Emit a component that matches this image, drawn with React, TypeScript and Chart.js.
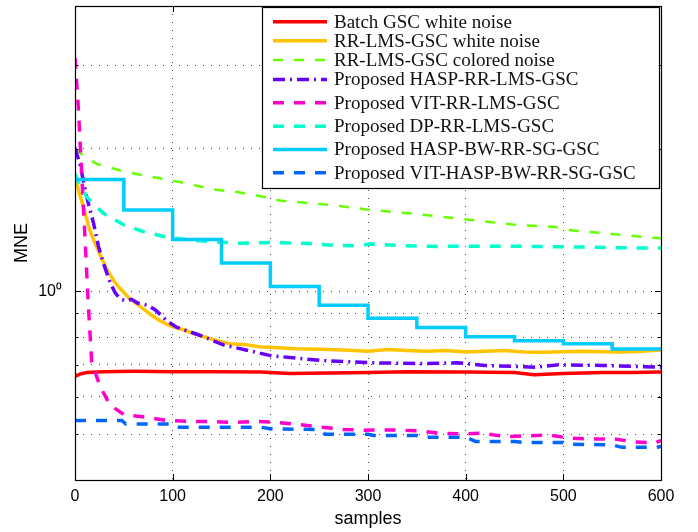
import React, { useEffect, useRef } from 'react';
import { Chart, registerables } from 'chart.js';

Chart.register(...registerables);

// ---------- data ----------
const seriesNames = [
  'Batch GSC white noise',
  'RR-LMS-GSC white noise',
  'RR-LMS-GSC colored noise',
  'Proposed HASP-RR-LMS-GSC',
  'Proposed VIT-RR-LMS-GSC',
  'Proposed DP-RR-LMS-GSC',
  'Proposed HASP-BW-RR-SG-GSC',
  'Proposed VIT-HASP-BW-RR-SG-GSC',
];

const batchX = [0, 5, 12, 30, 60, 100, 150, 190, 220, 260, 300, 340, 400, 450, 470, 500, 540, 570, 600];
const batchY = [0.662, 0.669, 0.674, 0.677, 0.678, 0.677, 0.677, 0.676, 0.671, 0.673, 0.674, 0.677, 0.676, 0.674, 0.667, 0.671, 0.674, 0.674, 0.676];

const rrWhiteX = [0, 4, 8.6, 15, 20, 26, 32, 40, 46, 56, 65, 77, 87, 98, 108, 118, 139, 159, 175, 190, 200, 225, 250, 275, 300, 320, 340, 360, 380, 400, 420, 440, 460, 480, 500, 520, 540, 560, 580, 600];
const rrWhiteY = [1.742, 1.62, 1.508, 1.35, 1.27, 1.19, 1.12, 1.05, 1.015, 0.965, 0.935, 0.895, 0.867, 0.845, 0.834, 0.82, 0.794, 0.775, 0.772, 0.763, 0.762, 0.757, 0.755, 0.752, 0.748, 0.754, 0.75, 0.748, 0.75, 0.745, 0.748, 0.75, 0.745, 0.744, 0.746, 0.748, 0.746, 0.745, 0.748, 0.752];

const rrColoredX = [0, 8.5, 22, 46, 70, 100, 108, 142, 166, 190, 211, 265, 298, 342, 406, 452, 491, 510, 550, 584, 600];
const rrColoredY = [2.0, 1.935, 1.858, 1.8, 1.757, 1.712, 1.7, 1.64, 1.62, 1.588, 1.553, 1.52, 1.489, 1.461, 1.414, 1.381, 1.368, 1.344, 1.322, 1.301, 1.295];

const haspX = [0, 5, 12, 19, 24, 29, 36, 41, 46, 52, 58, 64, 74, 82, 94, 104, 127, 152, 175, 188, 200, 251, 303, 354, 391, 420, 471, 495, 539, 600];
const haspY = [2.01, 1.858, 1.582, 1.392, 1.244, 1.148, 1.043, 0.994, 0.965, 0.955, 0.962, 0.945, 0.935, 0.915, 0.867, 0.84, 0.809, 0.771, 0.752, 0.742, 0.732, 0.715, 0.707, 0.704, 0.707, 0.698, 0.692, 0.7, 0.698, 0.692];

const vitX = [0, 3.4, 6.9, 10.3, 13.7, 17.1, 25.7, 36, 50, 74, 94, 118, 142, 163, 187, 207, 231, 252, 276, 296, 327, 351, 373, 396, 418, 440, 462, 485, 507, 529, 551, 574, 594, 600];
const vitY = [3.11, 2.44, 1.77, 1.285, 0.932, 0.709, 0.63, 0.575, 0.55, 0.542, 0.534, 0.5315, 0.5315, 0.529, 0.5315, 0.529, 0.523, 0.517, 0.511, 0.5095, 0.51, 0.508, 0.502, 0.5004, 0.502, 0.494, 0.4955, 0.498, 0.49, 0.488, 0.4885, 0.481, 0.4786, 0.485];

const dpX = [0, 4, 12, 29, 50, 70, 91, 115, 139, 166, 200, 240, 265, 285, 303, 330, 372, 420, 470, 520, 560, 600];
const dpY = [1.77, 1.69, 1.582, 1.461, 1.381, 1.337, 1.305, 1.285, 1.274, 1.264, 1.268, 1.262, 1.25, 1.248, 1.258, 1.25, 1.244, 1.246, 1.244, 1.24, 1.236, 1.234];

const bwX = [0, 50, 100, 150, 200, 250, 300, 350, 400, 450, 500, 550, 600];
const bwY = [1.721, 1.484, 1.287, 1.148, 1.024, 0.935, 0.878, 0.839, 0.802, 0.787, 0.775, 0.756, 0.756];

const vitBwX = [0, 48, 52, 100, 105, 190, 200, 250, 256, 300, 306, 350, 355, 400, 410, 450, 460, 500, 503, 550, 560, 595, 600];
const vitBwY = [0.534, 0.534, 0.525, 0.525, 0.517, 0.517, 0.513, 0.511, 0.4995, 0.4995, 0.4966, 0.4966, 0.4926, 0.4926, 0.4824, 0.482, 0.48, 0.48, 0.476, 0.4745, 0.4687, 0.4687, 0.471];

const xTickValues = [0, 100, 200, 300, 400, 500, 600];
const yTickValues = [0.4, 0.5, 0.6, 0.7, 0.8, 0.9, 1, 2, 3, 4];
const yTickLabels: Record<string, string> = { '1': '10\u2070' };

// ---------- styles ----------
const seriesStyles = [
  { color: '#FF0000', width: 3.5, dash: [] as number[], stepped: false },
  { color: '#FFC400', width: 3.5, dash: [], stepped: false },
  { color: '#66FF00', width: 2.5, dash: [10, 11], stepped: false },
  { color: '#6600FF', width: 3.5, dash: [12, 5, 2, 5], stepped: false },
  { color: '#FF00CC', width: 3.5, dash: [11, 10], stepped: false },
  { color: '#00FFCC', width: 3.5, dash: [11, 10], stepped: false },
  { color: '#00CCFF', width: 3.5, dash: [], stepped: true },
  { color: '#0066FF', width: 3.5, dash: [11, 10], stepped: false },
];

const seriesData: [number[], number[]][] = [
  [batchX, batchY],
  [rrWhiteX, rrWhiteY],
  [rrColoredX, rrColoredY],
  [haspX, haspY],
  [vitX, vitY],
  [dpX, dpY],
  [bwX, bwY],
  [vitBwX, vitBwY],
];

const legendRowOffsets = [14.7, 33.7, 53, 72.5, 95.7, 119.2, 142.5, 165.8];

const framePlugin = {
  id: 'frame',
  afterDatasetsDraw(chart: any) {
    const { ctx, chartArea: a, scales } = chart;
    const xs = scales.x;
    const ys = scales.y;
    ctx.save();
    ctx.setLineDash([]);
    ctx.strokeStyle = '#000';
    ctx.lineWidth = 1;
    ctx.beginPath();
    xs.ticks.forEach((t: any) => {
      const px = Math.round(xs.getPixelForValue(t.value)) + 0.5;
      ctx.moveTo(px, a.bottom);
      ctx.lineTo(px, a.bottom - 6);
      ctx.moveTo(px, a.top);
      ctx.lineTo(px, a.top + 6);
    });
    ys.ticks.forEach((t: any) => {
      const py = Math.round(ys.getPixelForValue(t.value)) + 0.5;
      const len = t.value === 1 ? 6 : 3.5;
      ctx.moveTo(a.left, py);
      ctx.lineTo(a.left + len, py);
      ctx.moveTo(a.right, py);
      ctx.lineTo(a.right - len, py);
    });
    ctx.stroke();
    ctx.lineWidth = 1.2;
    ctx.strokeRect(Math.round(a.left) + 0.5, Math.round(a.top) + 0.5, Math.round(a.right - a.left), Math.round(a.bottom - a.top));
    ctx.restore();
  },
  afterDraw(chart: any) {
    const { ctx, chartArea: a } = chart;
    const left = Math.round(a.right) - 399;
    const top = Math.round(a.top) + 1;
    const right = Math.round(a.right) - 2;
    const bottom = Math.round(a.top) + 182;
    ctx.save();
    ctx.fillStyle = '#fff';
    ctx.fillRect(left, top, right - left, bottom - top);
    ctx.strokeStyle = '#000';
    ctx.lineWidth = 1.2;
    ctx.setLineDash([]);
    ctx.strokeRect(left + 0.5, top + 0.5, right - left, bottom - top);
    chart.data.datasets.forEach((ds: any, i: number) => {
      const y = top + legendRowOffsets[i];
      ctx.save();
      ctx.strokeStyle = ds.borderColor;
      ctx.lineWidth = ds.borderWidth;
      ctx.setLineDash(ds.borderDash || []);
      ctx.beginPath();
      ctx.moveTo(left + 11, y);
      ctx.lineTo(left + 65, y);
      ctx.stroke();
      ctx.restore();
      ctx.fillStyle = '#111';
      ctx.font = '19px "Liberation Serif", "Times New Roman", serif';
      ctx.textBaseline = 'middle';
      ctx.textAlign = 'left';
      ctx.fillText(ds.label, left + 72, y + 1);
    });
    ctx.restore();
  },
};

export default function App() {
  const ref = useRef<HTMLCanvasElement | null>(null);
  useEffect(() => {
    document.body.style.margin = '0';
    if (!ref.current) return;
    const datasets = seriesNames.map((name, i) => {
      const [xs, ys] = seriesData[i];
      const st = seriesStyles[i];
      return {
        label: name,
        data: xs.map((x, k) => ({ x, y: ys[k] })),
        borderColor: st.color,
        backgroundColor: st.color,
        borderWidth: st.width,
        borderDash: st.dash,
        borderCapStyle: 'butt' as const,
        stepped: st.stepped,
        pointRadius: 0,
        fill: false,
        tension: 0,
        order: -i,
      };
    });
    const chart = new Chart(ref.current, {
      type: 'line',
      data: { datasets },
      options: {
        animation: false,
        responsive: false,
        devicePixelRatio: 1,
        layout: { padding: { left: 0, right: 37, top: 6, bottom: 0 } },
        plugins: { legend: { display: false }, tooltip: { enabled: false } },
        scales: {
          x: {
            type: 'linear',
            min: 0,
            max: 600,
            afterBuildTicks: (s: any) => {
              s.ticks = xTickValues.map((v) => ({ value: v }));
            },
            afterFit: (s: any) => {
              s.height = 52;
              s.paddingLeft = 0;
              s.paddingRight = 0;
            },
            ticks: {
              autoSkip: false,
              maxRotation: 0,
              padding: 7,
              color: '#000',
              font: { family: '"Liberation Sans", Arial, sans-serif', size: 16 },
              callback: (v: any) => String(v),
            },
            grid: { color: '#444', lineWidth: 1, drawTicks: false },
            border: { display: false, dash: [1, 7] },
            title: {
              display: true,
              text: 'samples',
              color: '#000',
              font: { family: '"Liberation Sans", Arial, sans-serif', size: 18 },
              padding: { top: 0, bottom: 2 },
            },
          },
          y: {
            type: 'logarithmic',
            min: 0.4,
            max: 4,
            afterBuildTicks: (s: any) => {
              s.ticks = yTickValues.map((v) => ({ value: v, major: v === 1 }));
            },
            afterFit: (s: any) => {
              s.width = 75;
              s.paddingTop = 0;
              s.paddingBottom = 0;
            },
            ticks: {
              autoSkip: false,
              padding: 13,
              color: '#000',
              font: { family: '"Liberation Sans", Arial, sans-serif', size: 16 },
              callback: (v: any) => yTickLabels[String(v)] || '',
            },
            grid: { color: '#444', lineWidth: 1, drawTicks: false },
            border: { display: false, dash: [1, 7] },
            title: {
              display: true,
              text: 'MNE',
              color: '#000',
              font: { family: '"Liberation Sans", Arial, sans-serif', size: 18 },
              padding: { top: 11, bottom: 0 },
            },
          },
        },
      },
      plugins: [framePlugin],
    });
    return () => chart.destroy();
  }, []);
  return (
    <div style={{ width: 698, height: 532 }}>
      <canvas ref={ref} width={698} height={532} style={{ display: 'block' }} />
    </div>
  );
}
